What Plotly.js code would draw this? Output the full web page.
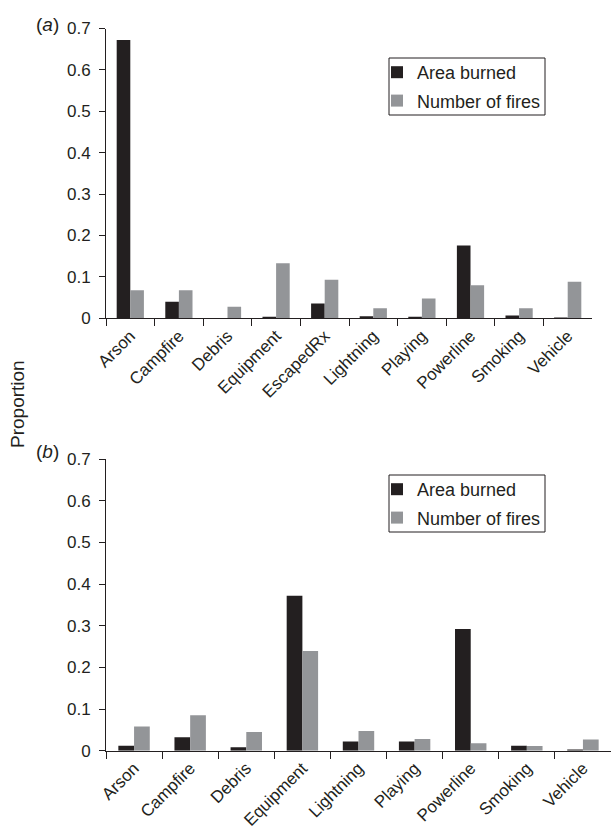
<!DOCTYPE html>
<html>
<head>
<meta charset="utf-8">
<script src="https://cdn.plot.ly/plotly-3.0.1.min.js"></script>
<style>html,body{margin:0;padding:0;background:#fff;}#chart{width:613px;height:832px;}</style>
</head>
<body>
<div id="chart"></div>
<script>
// Panel (a)
const catsA = ['Arson','Campfire','Debris','Equipment','EscapedRx','Lightning','Playing','Powerline','Smoking','Vehicle'];
const areaA = [0.672,0.040,0,0.004,0.036,0.005,0.004,0.176,0.007,0.002];
const firesA = [0.068,0.068,0.028,0.133,0.093,0.024,0.048,0.080,0.024,0.088];
// Panel (b)
const catsB = ['Arson','Campfire','Debris','Equipment','Lightning','Playing','Powerline','Smoking','Vehicle'];
const areaB = [0.012,0.032,0.008,0.372,0.022,0.022,0.292,0.012,0.003];
const firesB = [0.058,0.085,0.045,0.239,0.047,0.028,0.018,0.011,0.027];
const yTicks = [0,0.1,0.2,0.3,0.4,0.5,0.6,0.7];
const seriesNames = ['Area burned','Number of fires'];

const W = 613, H = 832;
const ink = '#231f20';
const black = '#231f20';
const gray = '#939598';
const FONT = '"Liberation Sans", Arial, Helvetica, sans-serif';

const px = v => v / W;
const py = v => 1 - v / H;

const traces = [
  {type:'bar', x:catsA, y:areaA, name:seriesNames[0], marker:{color:black}, xaxis:'x', yaxis:'y', legend:'legend', legendgroup:'a1'},
  {type:'bar', x:catsA, y:firesA, name:seriesNames[1], marker:{color:gray}, xaxis:'x', yaxis:'y', legend:'legend', legendgroup:'a2'},
  {type:'bar', x:catsB, y:areaB, name:seriesNames[0], marker:{color:black}, xaxis:'x2', yaxis:'y2', legend:'legend2', legendgroup:'b1'},
  {type:'bar', x:catsB, y:firesB, name:seriesNames[1], marker:{color:gray}, xaxis:'x2', yaxis:'y2', legend:'legend2', legendgroup:'b2'}
];

const xCommon = {
  type:'category', showline:true, linecolor:ink, linewidth:1, showgrid:false, zeroline:false,
  ticks:'outside', tickson:'boundaries', ticklen:7, tickcolor:ink, tickwidth:1,
  tickangle:-45, tickfont:{family:FONT, size:17, color:ink}, automargin:false, fixedrange:true
};
const yCommon = {
  range:[0,0.7], tickvals:yTicks, ticktext:yTicks.map(String), showline:true, linecolor:ink, linewidth:1,
  showgrid:false, zeroline:false, ticks:'outside', ticklen:6, tickcolor:ink, tickwidth:1,
  ticklabelstandoff:5, tickfont:{family:FONT, size:17, color:ink}, automargin:false, fixedrange:true
};

const legendCommon = {
  font:{family:FONT, size:18, color:ink}, bgcolor:'rgba(0,0,0,0)', borderwidth:0,
  xanchor:'left', yanchor:'top', traceorder:'grouped', tracegroupgap:2, itemclick:false, itemdoubleclick:false
};

const layout = {
  width:W, height:H, margin:{l:0,r:0,t:0,b:0}, paper_bgcolor:'#fff', plot_bgcolor:'rgba(0,0,0,0)',
  font:{family:FONT, color:ink},
  barmode:'group', bargap:0.44, bargroupgap:0,
  xaxis: Object.assign({}, xCommon, {domain:[px(106), px(592)], anchor:'y'}),
  yaxis: Object.assign({}, yCommon, {domain:[py(318.3), py(28.5)], anchor:'x'}),
  xaxis2: Object.assign({}, xCommon, {domain:[px(106), px(611)], anchor:'y2'}),
  yaxis2: Object.assign({}, yCommon, {domain:[py(750.7), py(459)], anchor:'x2'}),
  legend: Object.assign({}, legendCommon, {x:px(377), y:py(54)}),
  legend2: Object.assign({}, legendCommon, {x:px(377), y:py(471)}),
  shapes:[
    {type:'rect', xref:'paper', yref:'paper', x0:px(389), x1:px(545), y0:py(58), y1:py(115), line:{color:ink, width:1}},
    {type:'rect', xref:'paper', yref:'paper', x0:px(389), x1:px(545), y0:py(475), y1:py(532), line:{color:ink, width:1}}
  ],
  annotations:[
    {xref:'paper', yref:'paper', x:px(61), y:py(24), xanchor:'right', yanchor:'middle', showarrow:false, text:'(<i>a</i>)', font:{family:FONT, size:19, color:ink}},
    {xref:'paper', yref:'paper', x:px(61), y:py(452), xanchor:'right', yanchor:'middle', showarrow:false, text:'(<i>b</i>)', font:{family:FONT, size:19, color:ink}},
    {xref:'paper', yref:'paper', x:px(17), y:py(404), xanchor:'center', yanchor:'middle', showarrow:false, textangle:-90, text:'Proportion', font:{family:FONT, size:19, color:ink}}
  ],
  showlegend:true
};

Plotly.newPlot('chart', traces, layout, {displayModeBar:false, staticPlot:true});
</script>
</body>
</html>
